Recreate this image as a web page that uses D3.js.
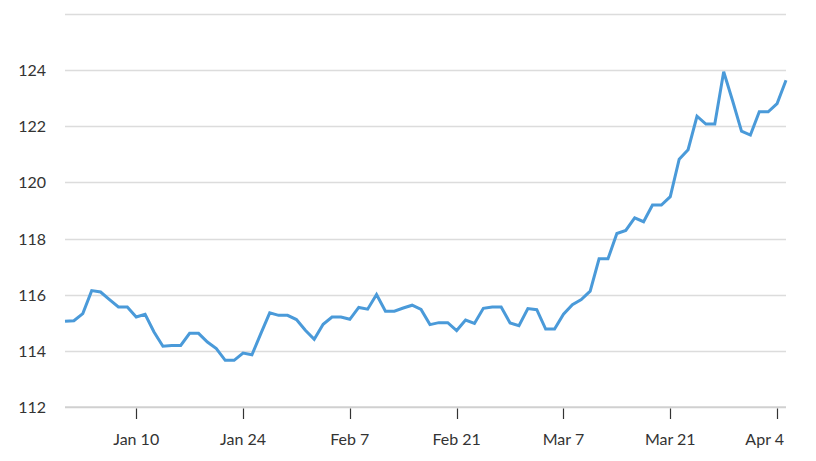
<!DOCTYPE html>
<html>
<head>
<meta charset="utf-8">
<script src="https://cdn.jsdelivr.net/npm/d3@7"></script>
<style>
  html, body { margin: 0; padding: 0; background: #fff; }
  svg { display: block; font-family: Lato, "Open Sans", sans-serif; }
</style>
</head>
<body>
<svg id="chart" width="816" height="461"></svg>
<script>
const dates = [
  "2021-12-31","2022-01-01",
  "2022-01-03","2022-01-04","2022-01-05","2022-01-06","2022-01-07","2022-01-08",
  "2022-01-10","2022-01-11","2022-01-12","2022-01-13","2022-01-14","2022-01-15",
  "2022-01-17","2022-01-18","2022-01-19","2022-01-20","2022-01-21","2022-01-22",
  "2022-01-24","2022-01-25","2022-01-26","2022-01-27","2022-01-28","2022-01-29",
  "2022-01-31","2022-02-01","2022-02-02","2022-02-03","2022-02-04","2022-02-05",
  "2022-02-07","2022-02-08","2022-02-09","2022-02-10","2022-02-11","2022-02-12",
  "2022-02-14","2022-02-15","2022-02-16","2022-02-17","2022-02-18","2022-02-19",
  "2022-02-21","2022-02-22","2022-02-23","2022-02-24","2022-02-25","2022-02-26",
  "2022-02-28","2022-03-01","2022-03-02","2022-03-03","2022-03-04","2022-03-05",
  "2022-03-07","2022-03-08","2022-03-09","2022-03-10","2022-03-11","2022-03-12",
  "2022-03-14","2022-03-15","2022-03-16","2022-03-17","2022-03-18","2022-03-19",
  "2022-03-21","2022-03-22","2022-03-23","2022-03-24","2022-03-25","2022-03-26",
  "2022-03-28","2022-03-29","2022-03-30","2022-03-31","2022-04-01","2022-04-02",
  "2022-04-04","2022-04-05"
];
const values = [
  115.06,115.08,115.33,116.15,116.10,115.83,115.57,115.57,115.21,115.31,
  114.68,114.17,114.20,114.20,114.63,114.63,114.32,114.09,113.67,113.67,
  113.93,113.87,114.62,115.36,115.27,115.27,115.12,114.74,114.42,114.95,
  115.21,115.21,115.13,115.55,115.49,116.01,115.42,115.42,115.53,115.63,
  115.48,114.94,115.01,115.01,114.73,115.10,114.98,115.52,115.57,115.57,
  115.00,114.90,115.51,115.47,114.78,114.78,115.31,115.65,115.83,116.13,
  117.28,117.28,118.18,118.29,118.74,118.60,119.19,119.19,119.49,120.82,
  121.16,122.35,122.07,122.07,123.93,122.90,121.82,121.68,122.51,122.51,
  122.80,123.63
];
const xTickDates = ["2022-01-10","2022-01-24","2022-02-07","2022-02-21","2022-03-07","2022-03-21","2022-04-04"];
const xTickLabels = ["Jan 10","Jan 24","Feb 7","Feb 21","Mar 7","Mar 21","Apr 4"];
const yGridValues = [112,114,116,118,120,122,124,126];
const yTickLabels = ["112","114","116","118","120","122","124"];

const svg = d3.select("#chart");
const mLeft = 65, mRight = 786, mTop = 13.6, mBottom = 407.3;

const x = d3.scaleLinear().domain([0, dates.length - 1]).range([mLeft, mRight]);
const y = d3.scaleLinear().domain([112, 126]).range([mBottom, mTop]);

// gridlines
svg.append("g").selectAll("line")
  .data(yGridValues.filter(v => v !== 112))
  .join("line")
  .attr("x1", mLeft).attr("x2", mRight)
  .attr("y1", d => Math.round(y(d)) + 0.5).attr("y2", d => Math.round(y(d)) + 0.5)
  .attr("stroke", "#dcdcdc").attr("stroke-width", 1.3);

// baseline
svg.append("line")
  .attr("x1", mLeft).attr("x2", mRight)
  .attr("y1", y(112)).attr("y2", y(112))
  .attr("stroke", "#d0d0d0").attr("stroke-width", 2);

// y labels
svg.append("g").selectAll("text")
  .data(yTickLabels)
  .join("text")
  .attr("x", 46)
  .attr("y", d => y(+d) + 6)
  .attr("text-anchor", "end")
  .attr("font-size", 16)
  .attr("fill", "#333")
  .text(d => d);

// x ticks
const tickIdx = xTickDates.map(d => dates.indexOf(d));
const xAxis = svg.append("g");
xAxis.selectAll("line")
  .data(tickIdx)
  .join("line")
  .attr("x1", d => Math.round(x(d)) + 0.5).attr("x2", d => Math.round(x(d)) + 0.5)
  .attr("y1", 408.5).attr("y2", 419)
  .attr("stroke", "#333").attr("stroke-width", 1.2);

xAxis.selectAll("text")
  .data(tickIdx)
  .join("text")
  .attr("y", 445)
  .attr("font-size", 16)
  .attr("fill", "#333")
  .attr("text-anchor", "middle")
  .attr("x", d => x(d))
  .text((d, i) => xTickLabels[i])
  .each(function() {
    const bb = this.getBBox();
    if (bb.x + bb.width > mRight - 2) {
      d3.select(this).attr("text-anchor", "end").attr("x", mRight - 2);
    }
  });

// line
const line = d3.line()
  .x((d, i) => x(i))
  .y(d => y(d));

svg.append("path")
  .datum(values)
  .attr("fill", "none")
  .attr("stroke", "#4a9ad9")
  .attr("stroke-width", 3)
  .attr("stroke-linejoin", "miter")
  .attr("d", line);
</script>
</body>
</html>
